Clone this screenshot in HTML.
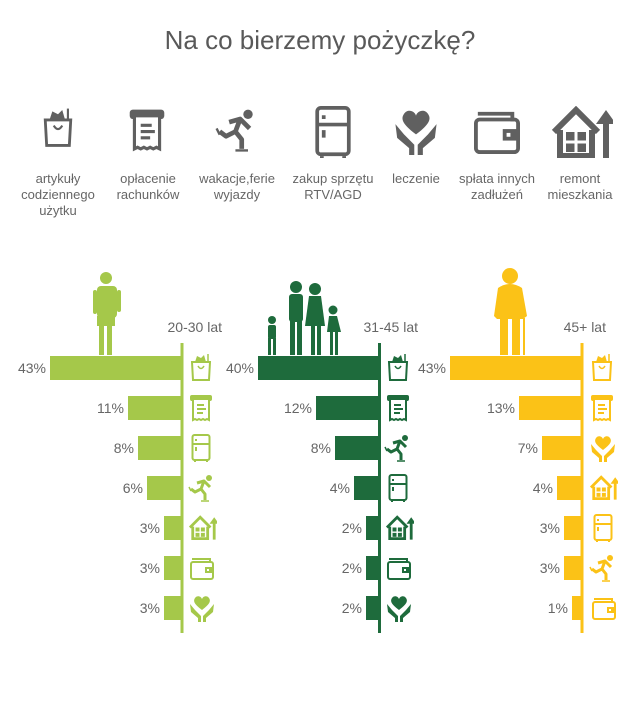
<!DOCTYPE html>
<html><head><meta charset="utf-8"><style>
html,body{margin:0;padding:0;background:#fff;width:640px;height:709px;overflow:hidden}
svg{display:block}
text{font-family:"Liberation Sans",sans-serif}
</style></head><body>
<svg width="640" height="709" viewBox="0 0 640 709" xmlns="http://www.w3.org/2000/svg">
<defs>
<symbol id="bag" viewBox="0 0 24 28"><path d="M3 9h18l-1 18H4z" fill="none" stroke="currentColor" stroke-width="2"/><path d="M6 9l2-6 4 2 3-3 2 7z" fill="currentColor"/><path d="M19 1v8" stroke="currentColor" stroke-width="1.5"/><path d="M9 13q3 5 6 0" fill="none" stroke="currentColor" stroke-width="1.5"/></symbol>
<symbol id="bill" viewBox="0 0 24 28"><rect x="1" y="1" width="22" height="6" rx="2" fill="currentColor"/><path d="M4 5h16v21l-2-1-2 1-2-1-2 1-2-1-2 1-2-1-2 1z" fill="#fff" stroke="currentColor" stroke-width="2"/><path d="M8 11h7M8 15h9M8 19h6" stroke="currentColor" stroke-width="2"/></symbol>
<symbol id="skate" viewBox="0 0 28 28"><circle cx="21" cy="4" r="3" fill="currentColor"/><path d="M9 9l7-2 6 6M16 7l-3 8 4 5v6M13 15l-6 3-4-3" fill="none" stroke="currentColor" stroke-width="3" stroke-linejoin="round"/><path d="M1 13l2 4M13 27h8" stroke="currentColor" stroke-width="1.5"/></symbol>
<symbol id="fridge" viewBox="0 0 20 28"><rect x="1.5" y="1" width="17" height="25" rx="2" fill="none" stroke="currentColor" stroke-width="2"/><path d="M1.5 10h17M4 27v1M16 27v1" stroke="currentColor" stroke-width="2"/><path d="M5 5v2M5 13v4" stroke="currentColor" stroke-width="2"/></symbol>
<symbol id="heart" viewBox="0 0 28 28"><path d="M14 16C6 10 5 7 7 4c2-3 6-2 7 1 1-3 5-4 7-1 2 3 1 6-7 12z" fill="currentColor"/><path d="M2 10l1 8 7 6v4h3v-6l-6-6M26 10l-1 8-7 6v4h-3v-6l6-6" fill="currentColor"/></symbol>
<symbol id="wallet" viewBox="0 0 26 24"><path d="M3 3h18v4" fill="none" stroke="currentColor" stroke-width="2"/><rect x="2" y="6" width="22" height="17" rx="2" fill="none" stroke="currentColor" stroke-width="2"/><rect x="16" y="11" width="8" height="6" fill="currentColor"/><rect x="18" y="13" width="2" height="2" fill="#fff"/></symbol>
<symbol id="house" viewBox="0 0 30 26"><path d="M1 13L12 2l11 11" fill="none" stroke="currentColor" stroke-width="3"/><path d="M4 12v13h16V12" fill="none" stroke="currentColor" stroke-width="3"/><rect x="7" y="13" width="10" height="10" fill="currentColor"/><path d="M12 13v10M7 18h10" stroke="#fff" stroke-width="1.5"/><path d="M27 26V5" stroke="currentColor" stroke-width="3"/><path d="M22 9l5-7 5 7z" fill="currentColor"/></symbol>
</defs>
<text x="320" y="49" text-anchor="middle" font-size="26" fill="#595959">Na co bierzemy pożyczkę?</text>
<g color="#606060">
<use href="#bag" x="41" y="106" width="34" height="42"/>
<use href="#bill" x="128" y="108" width="38" height="44"/>
<use href="#skate" x="215" y="108" width="44" height="44"/>
<use href="#fridge" x="314" y="106" width="38" height="52"/>
<use href="#heart" x="392" y="106" width="48" height="50"/>
<use href="#wallet" x="472" y="108" width="50" height="46"/>
<use href="#house" x="551" y="106" width="62" height="52"/>
</g>
<g font-size="13" fill="#666" text-anchor="middle">
<text x="58" y="183">artykuły</text><text x="58" y="199">codziennego</text><text x="58" y="215">użytku</text>
<text x="148" y="183">opłacenie</text><text x="148" y="199">rachunków</text>
<text x="237" y="183">wakacje,ferie</text><text x="237" y="199">wyjazdy</text>
<text x="333" y="183">zakup sprzętu</text><text x="333" y="199">RTV/AGD</text>
<text x="416" y="183">leczenie</text>
<text x="497" y="183">spłata innych</text><text x="497" y="199">zadłużeń</text>
<text x="580" y="183">remont</text><text x="580" y="199">mieszkania</text>
</g>
<g font-size="14" fill="#666" text-anchor="end">
<text x="222" y="332">20-30 lat</text><text x="418" y="332">31-45 lat</text><text x="606" y="332">45+ lat</text>
</g>
<!-- figures -->
<g fill="#a5c84a"><circle cx="106" cy="278" r="6"/><rect x="97" y="286" width="20" height="32" rx="4"/><rect x="97" y="316" width="18" height="10"/><rect x="99" y="324" width="5" height="31"/><rect x="107" y="324" width="5" height="31"/><rect x="93" y="290" width="4" height="24" rx="2"/><rect x="117" y="290" width="4" height="22" rx="2"/></g>
<g fill="#1e6b3c"><circle cx="296" cy="287" r="6"/><rect x="289" y="294" width="14" height="28" rx="3"/><rect x="290" y="320" width="5" height="35"/><rect x="297" y="320" width="5" height="35"/><circle cx="315" cy="289" r="6"/><path d="M309 296h12l4 30h-20z"/><rect x="311" y="325" width="4" height="30"/><rect x="317" y="325" width="4" height="30"/><circle cx="272" cy="320" r="4"/><rect x="268" y="325" width="8" height="14" rx="2"/><rect x="268" y="338" width="3" height="17"/><rect x="273" y="338" width="3" height="17"/><circle cx="333" cy="310" r="4.5"/><path d="M329 316h8l4 16h-14z"/><rect x="330" y="331" width="3" height="24"/><rect x="335" y="331" width="3" height="24"/></g>
<g fill="#fbc217"><circle cx="510" cy="276" r="8"/><path d="M498 288q12-8 24 0l5 28-4 3h-26l-3-3z"/><rect x="500" y="318" width="8" height="37"/><rect x="512" y="318" width="8" height="37"/><rect x="523" y="318" width="2" height="37"/></g>
<!-- axes -->
<rect x="180.5" y="343" width="3" height="290" fill="#a5c84a"/>
<rect x="378" y="343" width="3" height="290" fill="#1e6b3c"/>
<rect x="580.5" y="343" width="3" height="290" fill="#fbc217"/>
<g fill="#a5c84a">
<rect x="50" y="356" width="132" height="24"/><rect x="128" y="396" width="54" height="24"/><rect x="138" y="436" width="44" height="24"/><rect x="147" y="476" width="35" height="24"/><rect x="164" y="516" width="18" height="24"/><rect x="164" y="556" width="18" height="24"/><rect x="164" y="596" width="18" height="24"/>
</g>
<g fill="#1e6b3c">
<rect x="258" y="356" width="121" height="24"/><rect x="316" y="396" width="63" height="24"/><rect x="335" y="436" width="44" height="24"/><rect x="354" y="476" width="25" height="24"/><rect x="366" y="516" width="13" height="24"/><rect x="366" y="556" width="13" height="24"/><rect x="366" y="596" width="13" height="24"/>
</g>
<g fill="#fbc217">
<rect x="450" y="356" width="132" height="24"/><rect x="519" y="396" width="63" height="24"/><rect x="542" y="436" width="40" height="24"/><rect x="557" y="476" width="25" height="24"/><rect x="564" y="516" width="18" height="24"/><rect x="564" y="556" width="18" height="24"/><rect x="572" y="596" width="10" height="24"/>
</g>
<g font-size="14" fill="#666" text-anchor="end">
<text x="46" y="373">43%</text><text x="124" y="413">11%</text><text x="134" y="453">8%</text><text x="143" y="493">6%</text><text x="160" y="533">3%</text><text x="160" y="573">3%</text><text x="160" y="613">3%</text>
<text x="254" y="373">40%</text><text x="312" y="413">12%</text><text x="331" y="453">8%</text><text x="350" y="493">4%</text><text x="362" y="533">2%</text><text x="362" y="573">2%</text><text x="362" y="613">2%</text>
<text x="446" y="373">43%</text><text x="515" y="413">13%</text><text x="538" y="453">7%</text><text x="553" y="493">4%</text><text x="560" y="533">3%</text><text x="560" y="573">3%</text><text x="568" y="613">1%</text>
</g>
<g color="#a5c84a">
<use href="#bag" x="189" y="353" width="24" height="28"/><use href="#bill" x="189" y="394" width="24" height="28"/><use href="#fridge" x="191" y="434" width="20" height="28"/><use href="#skate" x="188" y="474" width="28" height="28"/><use href="#house" x="189" y="515" width="28" height="25"/><use href="#wallet" x="189" y="555" width="26" height="26"/><use href="#heart" x="188" y="594" width="28" height="28"/>
</g>
<g color="#1e6b3c">
<use href="#bag" x="386" y="353" width="24" height="28"/><use href="#bill" x="386" y="394" width="24" height="28"/><use href="#skate" x="384" y="434" width="28" height="28"/><use href="#fridge" x="388" y="474" width="20" height="28"/><use href="#house" x="386" y="515" width="28" height="25"/><use href="#wallet" x="386" y="555" width="26" height="26"/><use href="#heart" x="385" y="594" width="28" height="28"/>
</g>
<g color="#fbc217">
<use href="#bag" x="590" y="353" width="24" height="28"/><use href="#bill" x="590" y="394" width="24" height="28"/><use href="#heart" x="589" y="434" width="28" height="28"/><use href="#house" x="590" y="475" width="28" height="25"/><use href="#fridge" x="593" y="514" width="20" height="28"/><use href="#skate" x="589" y="554" width="28" height="28"/><use href="#wallet" x="591" y="595" width="26" height="26"/>
</g>
</svg>
</body></html>
